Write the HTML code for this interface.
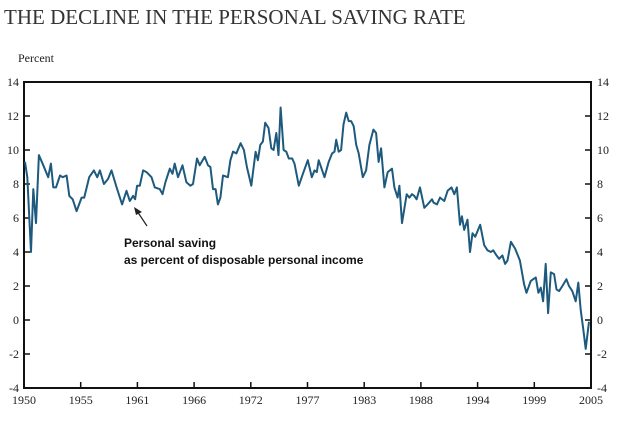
<!DOCTYPE html>
<html><head><meta charset="utf-8"><style>
body{margin:0;background:#fff;width:620px;height:427px;overflow:hidden}
svg{display:block}
.t{font-family:"Liberation Serif",serif;font-size:12px;fill:#222}
</style></head><body>
<svg id="chart" width="620" height="427">
<text x="4" y="24" font-family="Liberation Serif,serif" font-size="21" fill="#333">THE DECLINE IN THE PERSONAL SAVING RATE</text>
<text x="18" y="62" class="t" font-size="13">Percent</text>
<g id="axes"></g>
<g id="series"></g>
<text x="124" y="247" font-family="Liberation Sans,sans-serif" font-size="12" font-weight="bold" fill="#111">Personal saving</text>
<text x="124" y="264" font-family="Liberation Sans,sans-serif" font-size="12" font-weight="bold" fill="#111">as percent of disposable personal income</text>
<g><line x1="147" y1="226" x2="137" y2="211" stroke="#222" stroke-width="1.2"/><polygon points="134,207 142,212 136,215" fill="#222"/></g>
</svg>
<script>
const years=[1950.10,1950.32,1950.68,1950.90,1951.16,1951.45,1951.87,1952.35,1952.61,1952.84,1953.10,1953.49,1953.75,1954.13,1954.39,1954.72,1955.10,1955.59,1955.84,1956.32,1956.78,1957.10,1957.36,1957.75,1958.16,1958.49,1958.98,1959.52,1959.94,1960.26,1960.58,1960.78,1960.97,1961.23,1961.55,1961.88,1962.37,1962.69,1963.17,1963.43,1963.72,1964.14,1964.40,1964.62,1964.94,1965.37,1965.75,1966.14,1966.39,1966.78,1967.04,1967.53,1967.85,1968.08,1968.33,1968.59,1968.81,1969.05,1969.30,1969.78,1970.02,1970.27,1970.60,1971.01,1971.33,1971.62,1972.05,1972.47,1972.69,1972.92,1973.17,1973.40,1973.72,1973.99,1974.21,1974.47,1974.69,1974.89,1975.18,1975.44,1975.69,1976.02,1976.24,1976.66,1977.05,1977.53,1977.92,1978.18,1978.40,1978.59,1979.15,1979.56,1979.89,1980.12,1980.28,1980.53,1980.76,1980.99,1981.25,1981.50,1981.73,1981.98,1982.22,1982.47,1982.86,1983.18,1983.50,1983.89,1984.15,1984.40,1984.64,1984.96,1985.28,1985.70,1985.93,1986.24,1986.41,1986.67,1987.12,1987.38,1987.64,1987.86,1988.08,1988.41,1988.83,1989.15,1989.58,1989.73,1990.06,1990.35,1990.77,1991.09,1991.47,1991.74,1991.99,1992.29,1992.48,1992.70,1993.02,1993.26,1993.51,1993.77,1994.25,1994.64,1994.96,1995.29,1995.51,1995.83,1996.09,1996.41,1996.67,1996.90,1997.23,1997.64,1998.10,1998.51,1998.74,1999.16,1999.39,1999.65,1999.90,2000.13,2000.35,2000.61,2000.84,2001.10,2001.42,2001.65,2001.91,2002.23,2002.61,2002.87,2003.19,2003.52,2003.77,2004.00,2004.26,2004.49,2004.81];
const rates=[9.3,8.4,4.0,7.7,5.7,9.7,9.1,8.4,9.2,7.8,7.8,8.5,8.4,8.5,7.3,7.1,6.4,7.2,7.2,8.4,8.8,8.4,8.8,8.0,8.3,8.8,7.8,6.8,7.6,7.0,7.3,7.1,7.9,7.9,8.8,8.7,8.4,7.8,7.7,7.4,8.1,8.9,8.6,9.2,8.4,9.1,8.1,7.9,8.0,9.5,9.1,9.6,9.1,9.0,7.7,7.7,6.8,7.2,8.5,8.4,9.4,9.9,9.8,10.4,10.0,9.0,7.9,9.9,9.4,10.3,10.5,11.6,11.3,10.1,10.0,11.0,9.7,12.5,10.0,9.9,9.5,9.5,9.2,7.9,8.6,9.4,8.4,8.8,8.7,9.4,8.4,9.3,9.8,9.9,10.6,9.9,10.0,11.5,12.2,11.7,11.7,11.4,10.3,9.8,8.4,8.8,10.3,11.2,11.0,9.3,10.1,7.8,8.7,8.9,7.8,7.2,7.9,5.7,7.4,7.2,7.4,7.3,7.1,7.8,6.6,6.8,7.1,6.9,6.8,7.2,7.0,7.6,7.8,7.4,7.8,5.6,6.1,5.3,5.9,4.0,5.1,4.9,5.6,4.4,4.1,4.0,4.1,3.8,3.6,3.8,3.3,3.5,4.6,4.2,3.5,2.1,1.6,2.3,2.4,2.5,1.6,1.9,1.1,3.3,0.4,2.8,2.7,1.8,1.7,2.0,2.4,2.0,1.7,1.1,2.2,0.6,-0.6,-1.7,-0.1];
const yTicks=[14,12,10,8,6,4,2,0,-2,-4];
const xTickLabels=["1950","1955","1961","1966","1972","1977","1983","1988","1994","1999","2005"];
const L=24,R=591,T=82,B=388,Y0=1950,Y1=2005,VMIN=-4,VMAX=14;
const xs=y=>L+(y-Y0)/(Y1-Y0)*(R-L);
const ys=v=>B-(v-VMIN)/(VMAX-VMIN)*(B-T);
const NS="http://www.w3.org/2000/svg";
const ax=document.getElementById('axes');
function mk(tag,attrs,parent){const e=document.createElementNS(NS,tag);for(const k in attrs)e.setAttribute(k,attrs[k]);parent.appendChild(e);return e;}
const box=mk('rect',{x:L,y:T,width:R-L,height:B-T,fill:'none',stroke:'#111','stroke-width':2},ax);


yTicks.forEach(v=>{
  const y=ys(v);
  const t1=mk('line',{x1:L,x2:L+6,y1:y,y2:y,stroke:'#111','stroke-width':1.5},ax);
  
  
  const t2=mk('line',{x1:R-6,x2:R,y1:y,y2:y,stroke:'#111','stroke-width':1.5},ax);
  
  
  const a=mk('text',{x:L-5,y:y+4,'text-anchor':'end',class:'t'},ax);a.textContent=v;
  
  
  const b=mk('text',{x:R+6,y:y+4,class:'t'},ax);b.textContent=v;
  
  
});
xTickLabels.forEach((lab,i)=>{
  const x=L+i*(R-L)/(xTickLabels.length-1);
  const t=mk('line',{x1:x,x2:x,y1:B-6,y2:B,stroke:'#111','stroke-width':1.5},ax);
  
  
  const tx=mk('text',{x:x,y:B+16,'text-anchor':'middle',class:'t'},ax);tx.textContent=lab;
  
  
});
const d=years.map((y,i)=>(i?'L':'M')+xs(y).toFixed(1)+' '+ys(rates[i]).toFixed(1)).join(' ');
const p=mk('path',{d:d,fill:'none',stroke:'#1d5a7e','stroke-width':2,'stroke-linejoin':'round'},document.getElementById('series'));


</script>
</body></html>
